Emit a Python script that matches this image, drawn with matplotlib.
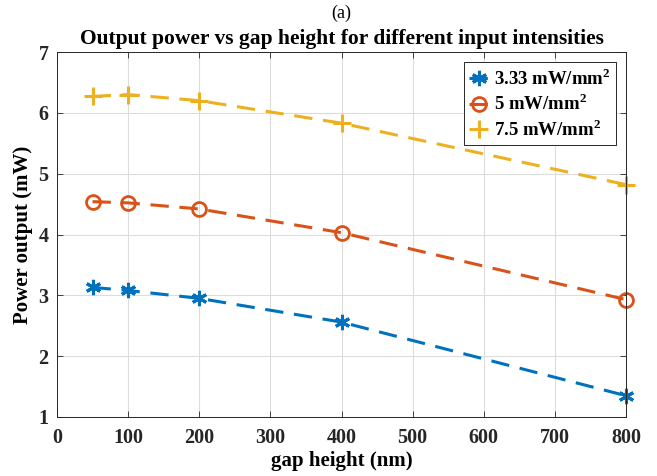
import matplotlib
matplotlib.use("Agg")
import matplotlib.pyplot as plt

plt.rcParams['font.family'] = ['Liberation Serif', 'DejaVu Serif']
plt.rcParams['mathtext.fontset'] = 'custom'
plt.rcParams['mathtext.rm'] = 'Liberation Serif'
plt.rcParams['mathtext.bf'] = 'Liberation Serif:bold'

gap_nm = [50, 100, 200, 400, 800]
p_333 = [3.13, 3.08, 2.95, 2.56, 1.35]
p_5 = [4.54, 4.52, 4.42, 4.03, 2.93]
p_75 = [6.27, 6.30, 6.20, 5.83, 4.82]
labels = [r'3.33 mW/mm$^{\mathbf{2}}$', r'5 mW/mm$^{\mathbf{2}}$', r'7.5 mW/mm$^{\mathbf{2}}$']
xticks = [0, 100, 200, 300, 400, 500, 600, 700, 800]
yticks = [1, 2, 3, 4, 5, 6, 7]

fig = plt.figure(figsize=(6.57, 4.76), dpi=100)
ax = fig.add_axes([57/657, 1-417/476, (626-57)/657, (417-52)/476])

c1, c2, c3 = '#0072BD', '#D95319', '#EDB120'
dash = (0, (6, 3.5))
ax.plot(gap_nm, p_333, linestyle=dash, color=c1, lw=2.2, clip_on=False,
        marker=(6, 2, 0), ms=11, mew=2.2, label=labels[0])
ax.plot(gap_nm, p_5, linestyle=dash, color=c2, lw=2.2, clip_on=False,
        marker='o', ms=10, mfc='none', mew=2.0, label=labels[1])
ax.plot(gap_nm, p_75, linestyle=dash, color=c3, lw=2.2, clip_on=False,
        marker='+', ms=13, mew=2.2, label=labels[2])

ax.set_xlim(0, 800)
ax.set_ylim(1, 7)
ax.set_xticks(xticks)
ax.set_yticks(yticks)
ax.tick_params(direction='in', top=True, right=True, length=4, width=0.6,
               labelsize=14.5, colors='#262626')
ax.tick_params(axis='x', pad=8)
ax.tick_params(axis='y', pad=6)
for lab in ax.get_xticklabels() + ax.get_yticklabels():
    lab.set_fontweight('bold')
    lab.set_color('#262626')
for s in ax.spines.values():
    s.set_color('#262626')
    s.set_linewidth(0.7)
ax.grid(True, color='#dcdcdc', linewidth=0.8)
ax.set_axisbelow(True)

ax.set_xlabel('gap height (nm)', fontsize=15, fontweight='bold', labelpad=2)
ax.set_ylabel('Power output (mW)', fontsize=15, fontweight='bold', labelpad=4)
fig.text(341/657, 1-13/476, '(a)', ha='center', va='center', fontsize=13)
ax.set_title('Output power vs gap height for different input intensities',
             fontsize=15.5, fontweight='bold', pad=6)

leg = ax.legend(loc='upper right', bbox_to_anchor=(0.982, 0.972),
                borderaxespad=0,
                prop={'weight': 'bold', 'size': 13.5}, handlelength=1.0,
                handletextpad=0.3, borderpad=0.3, labelspacing=0.25,
                fancybox=False, framealpha=1, edgecolor='#262626')
leg.get_frame().set_linewidth(0.7)

fig.savefig('out.png', dpi=100)
